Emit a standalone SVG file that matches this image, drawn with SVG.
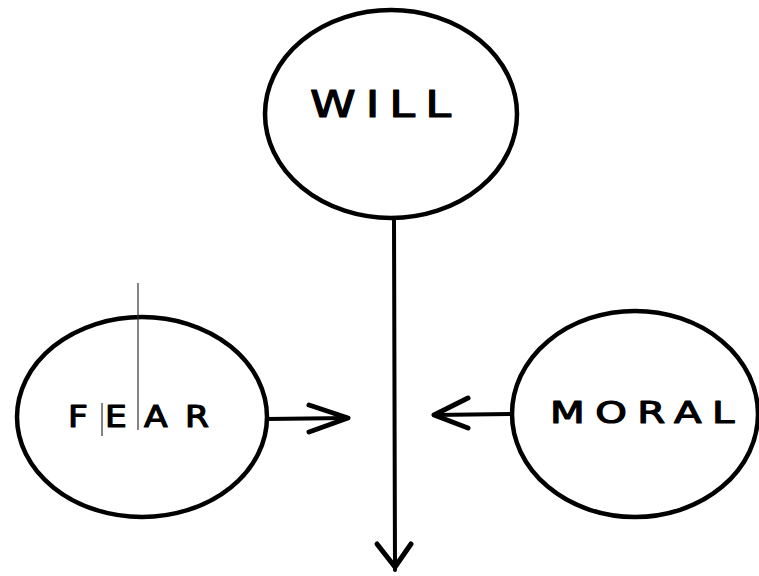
<svg xmlns="http://www.w3.org/2000/svg" width="759" height="576" viewBox="0 0 759 576">
<style>
.node{fill:#fff;stroke:#000;stroke-width:4.5}
.lbl{font-family:"DejaVu Sans",sans-serif;fill:#000;stroke:#000;stroke-width:1.2;stroke-linejoin:round}
.edge{stroke:#000;stroke-width:4;fill:none;stroke-linecap:round;stroke-linejoin:round}
.head{stroke:#000;stroke-width:5;fill:none;stroke-linecap:round;stroke-linejoin:round}
.thin{stroke:#333;stroke-width:1.2}
</style>
<rect width="759" height="576" fill="#fff"/>
<g id="connectors">
<path class="edge" d="M394 218 L395 570"/>
<path class="head" d="M377 544 L395 567 L411 544"/>
<path class="edge" d="M267 419 L348 418"/>
<path class="head" d="M309 405 L348 418 L309 432"/>
<path class="edge" d="M512 414 L434 415"/>
<path class="head" d="M468 398 L434 415 L468 428"/>
</g>
<g id="will">
<ellipse class="node" cx="391" cy="114" rx="126" ry="104"/>
<text class="lbl" transform="translate(310,117) scale(1.25,1)" font-size="37" letter-spacing="8">WILL</text>
</g>
<g id="fear">
<ellipse class="node" cx="142" cy="417" rx="125" ry="100"/>
<text class="lbl" transform="translate(68,427) scale(1.15,1)" font-size="30" letter-spacing="15">FEAR</text>
<line class="thin" x1="138" y1="283" x2="138" y2="430"/>
<line class="thin" x1="102" y1="403" x2="102" y2="436"/>
</g>
<g id="moral">
<ellipse class="node" cx="635" cy="414" rx="123" ry="103"/>
<text class="lbl" transform="translate(550,423) scale(1.3,1)" font-size="31" letter-spacing="8">MORAL</text>
</g>
</svg>
